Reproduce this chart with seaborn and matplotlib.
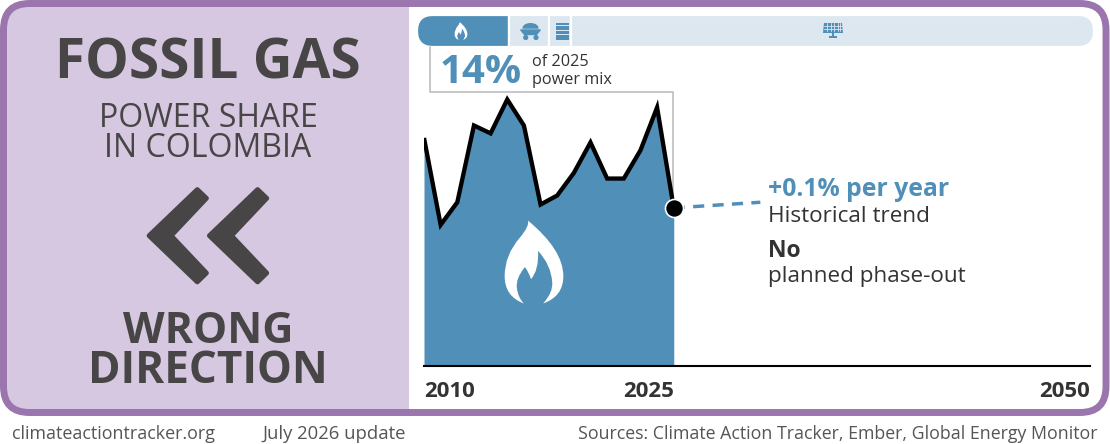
#!/usr/bin/env python3
import numpy as np
import seaborn as sns
import matplotlib.pyplot as plt
from matplotlib.patches import FancyBboxPatch, PathPatch, Polygon, Circle, Rectangle, Ellipse
from matplotlib.path import Path

years = [2010, 2011, 2012, 2013, 2014, 2015, 2016, 2017,
         2018, 2019, 2020, 2021, 2022, 2023, 2024, 2025]
gas_share = [20.2, 12.5, 14.5, 21.3, 20.6, 23.6, 21.3, 14.3,
             15.1, 17.1, 19.8, 16.6, 16.6, 19.1, 22.9, 14.0]
trend_years = [2025, 2030.2]
trend_share = [14.0, 14.5]
axis_ticks = [2010, 2025, 2050]

mix_labels = ['gas', 'coal', 'oil', 'renewables']
mix_share = [13.6, 5.9, 3.3, 77.2]

BLUE = '#4f8fb8'
LIGHT = '#dce7f0'
PURPLE = '#9b75ae'
LILAC = '#d6c8e0'
DARK = '#474545'
TEXT = '#333333'
W, H = 1110, 444

FLAME_VERTS = [(528, 221), (563, 250), (563, 276), (563, 296), (543, 303),
               (553, 292), (552, 282), (551, 265), (538, 251), (539, 270),
               (531, 279), (529, 272), (525, 267), (516, 278), (517, 287),
               (518, 297), (524, 303), (505, 296), (505, 276), (505, 255),
               (520, 238), (530, 226), (528, 221)]


def flame(cx, cy, h):
    v = np.array(FLAME_VERTS, dtype=float)
    v = (v - [534, 262]) * h / 82 + [cx, cy]
    codes = [Path.MOVETO] + [Path.CURVE3] * (len(v) - 1)
    return Path(v, codes)


def px_axes(fig, x0, y0, x1, y1):
    # axes from pixel box, y measured from the top
    return fig.add_axes([x0 / W, 1 - y1 / H, (x1 - x0) / W, (y1 - y0) / H])


def main():
    sns.set_theme(style='white')
    plt.rcParams['font.family'] = ['Open Sans', 'DejaVu Sans']
    fig = plt.figure(figsize=(11.1, 4.44), dpi=100, facecolor='white')

    # canvas in pixels for the frame, icons and text
    bg = fig.add_axes([0, 0, 1, 1])
    bg.set_xlim(0, W)
    bg.set_ylim(H, 0)
    bg.axis('off')

    frame_fill = FancyBboxPatch((3.5, 3.5), 1102.5, 409, boxstyle='round,pad=0,rounding_size=26',
                                fc='white', ec='none', zorder=1)
    bg.add_patch(frame_fill)
    panel = Rectangle((0, 0), 409, 420, fc=LILAC, ec='none', zorder=2)
    bg.add_patch(panel)
    panel.set_clip_path(frame_fill)
    bg.add_patch(FancyBboxPatch((3.5, 3.5), 1102.5, 409, boxstyle='round,pad=0,rounding_size=26',
                                fc='none', ec=PURPLE, lw=5, zorder=3))

    # left panel
    bg.text(208, 64, 'FOSSIL GAS', fontsize=39.5, fontweight='bold', color=DARK,
            ha='center', va='center', zorder=4)
    bg.text(208, 118, 'POWER SHARE', fontsize=23, color=DARK, ha='center', va='center', zorder=4)
    bg.text(208, 148, 'IN COLOMBIA', fontsize=23, color=DARK, ha='center', va='center', zorder=4)
    for dx in (0, 60.3):
        pts = [(149, 235.7), (197.3, 189.5), (206.5, 198.3), (171.2, 235.7),
               (206.5, 273), (197.3, 282)]
        bg.add_patch(Polygon([(x + dx, y) for x, y in pts], closed=True, fc=DARK, ec=DARK,
                             lw=3.4, joinstyle='round', zorder=4))
    bg.text(208, 331, 'WRONG', fontsize=31, fontweight='bold', color=DARK, ha='center', va='center', zorder=4)
    bg.text(208, 371, 'DIRECTION', fontsize=31.7, fontweight='bold', color=DARK, ha='center', va='center', zorder=4)

    # footer
    bg.text(12, 434, 'climateactiontracker.org', fontsize=12.9, color='#555555', va='center')
    bg.text(262, 434, 'July 2026 update', fontsize=13.3, color='#555555', va='center')
    bg.text(1097, 434, 'Sources: Climate Action Tracker, Ember, Global Energy Monitor',
            fontsize=12.8, color='#555555', va='center', ha='right')

    # power mix strip
    strip = px_axes(fig, 417, 15, 1094, 47)
    strip.patch.set_alpha(0)
    strip.axis('off')
    clip = FancyBboxPatch((418, 16), 675, 30, boxstyle='round,pad=0,rounding_size=15',
                          fc='none', ec='none', transform=bg.transData)
    bg.add_patch(clip)
    left = 0
    for name, share in zip(mix_labels, mix_share):
        c = BLUE if name == 'gas' else LIGHT
        bars = strip.barh([0], [share], left=left, height=1, color=c, edgecolor='white', linewidth=1.6)
        bars[0].set_clip_path(clip)
        left += share
    strip.set_xlim(0, 100)
    strip.set_ylim(-0.5, 0.5)

    # coal, oil and solar icons on the strip
    top = dict(transform=bg.transData, zorder=5, clip_on=False)
    strip.add_patch(PathPatch(flame(461, 31, 18), fc='white', ec='none', **top))
    strip.add_patch(Ellipse((530.5, 28), 16, 10, fc=BLUE, ec='none', **top))
    strip.add_patch(Polygon([(520, 29), (541, 29), (541, 30.5), (537, 35.5), (524, 35.5), (520, 30.5)],
                            fc=BLUE, ec=LIGHT, lw=0.4, **top))
    for wx in (525.7, 536):
        strip.add_patch(Circle((wx, 37.5), 2.6, fc=BLUE, ec='none', **top))
    for by, bh in [(23, 2.5), (26.5, 3.5), (31, 3.5), (35.5, 3.5), (39.5, 1)]:
        strip.add_patch(Rectangle((556, by), 13, bh, fc=BLUE, ec='none', **top))
    strip.add_patch(Polygon([(824, 23), (842, 23), (843, 33), (823, 33)], fc=BLUE, ec='none', **top))
    for gx in (827, 830.5, 834, 837.5, 840):
        strip.plot([gx, gx], [23, 31], color=LIGHT, lw=0.6, transform=bg.transData, zorder=6, clip_on=False)
    for gy in (26, 29):
        strip.plot([824, 842], [gy, gy], color=LIGHT, lw=0.6, transform=bg.transData, zorder=6, clip_on=False)
    strip.add_patch(Rectangle((832, 33), 2, 4, fc=BLUE, ec='none', **top))
    strip.add_patch(Rectangle((829, 36.5), 8, 1.5, fc=BLUE, ec='none', **top))
    strip.set_xlim(0, 100)
    strip.set_ylim(-0.5, 0.5)

    # callout
    bg.plot([430, 430, 673, 673], [47, 92.5, 92.5, 205], color='#bdbdbd', lw=1.2, zorder=4)
    bg.text(440, 72.5, '14%', fontsize=29, fontweight='bold', color=BLUE, va='center', zorder=4)
    bg.text(532, 62, 'of 2025', fontsize=11.7, color=TEXT, va='center', zorder=4)
    bg.text(532, 80, 'power mix', fontsize=11.7, color=TEXT, va='center', zorder=4)

    # right hand labels
    bg.text(768, 189.5, '+0.1% per year', fontsize=17.8, fontweight='bold', color=BLUE, va='center', zorder=4)
    bg.text(768, 216.5, 'Historical trend', fontsize=16.2, color=TEXT, va='center', zorder=4)
    bg.text(768, 250.5, 'No', fontsize=16.5, fontweight='bold', color=TEXT, va='center', zorder=4)
    bg.text(768, 276.5, 'planned phase-out', fontsize=16.2, color=TEXT, va='center', zorder=4)

    # main chart
    ax = px_axes(fig, 424, 95, 1090, 366)
    ax.patch.set_alpha(0)
    ax.fill_between(years, gas_share, 0, color=BLUE, lw=0, zorder=1)
    sns.lineplot(x=trend_years, y=trend_share, color=BLUE, lw=2.5, ax=ax, zorder=2,
                 dashes=(3.2, 2.4), errorbar=None)
    sns.lineplot(x=years, y=gas_share, color='black', lw=3.1, ax=ax, zorder=3, errorbar=None,
                 solid_joinstyle='miter', solid_capstyle='butt')
    ax.plot(years[-1], gas_share[-1], 'o', ms=13, mfc='black', mec='white', mew=1.2,
            zorder=4, clip_on=False)
    ax.add_patch(PathPatch(flame(534, 262, 83), fc='white', ec='none', transform=bg.transData, zorder=5))
    ax.set_xlim(2010, 2050)
    ax.set_ylim(0, 24)
    ax.set_yticks([])
    ax.set_xticks(axis_ticks)
    ax.set_xticklabels([str(t) for t in axis_ticks], fontsize=16, fontweight='bold', color=TEXT)
    for lab, ha in zip(ax.get_xticklabels(), ['left', 'right', 'right']):
        lab.set_ha(ha)
    ax.tick_params(axis='x', length=0, pad=11)
    sns.despine(ax=ax, left=True)
    ax.spines['bottom'].set_color('black')
    ax.spines['bottom'].set_linewidth(1.5)

    fig.savefig('out.png', dpi=100)


if __name__ == '__main__':
    main()
